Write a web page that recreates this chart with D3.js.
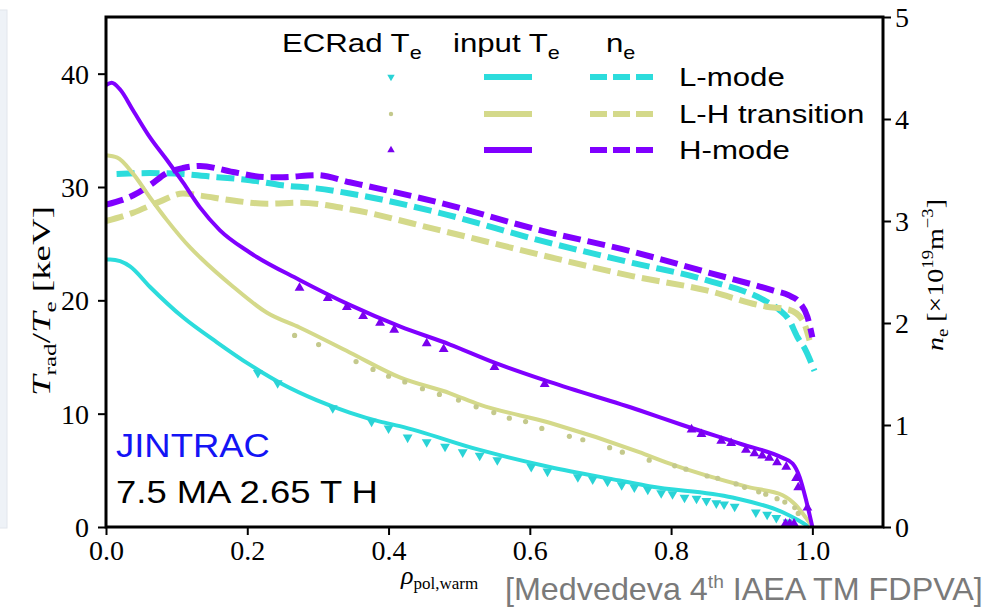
<!DOCTYPE html>
<html><head><meta charset="utf-8">
<script src="https://cdn.jsdelivr.net/npm/d3@7"></script>
<style>body{margin:0;background:#fff;} svg{display:block}</style>
</head><body><svg id="c" width="986" height="611"></svg>
<script>
// ---------- data ----------
const rhoTicks = [0, 0.2, 0.4, 0.6, 0.8, 1.0];
const teTicks = [0, 10, 20, 30, 40];
const neTicks = [0, 1, 2, 3, 4, 5];
const modes = ["L-mode", "L-H transition", "H-mode"];
const colors = ["#2cdcdc", "#d4d98a", "#8000ff"];

// input Te [keV]
const teL_rho = [0, .006, .034, .062, .109, .157, .204, .25, .298, .345, .388, .416, .529, .628, .727, .769, .887, .958, .98, .996];
const teL     = [23.6, 23.6, 23.0, 21.2, 18.5, 16.3, 14.3, 12.6, 11.2, 10.1, 9.3, 8.9, 6.8, 5.3, 4.1, 3.6, 2.6, 1.3, 0.6, 0];
const teLH_rho = [0, .016, .038, .062, .086, .12, .133, .18, .228, .274, .345, .416, .487, .529, .628, .755, .793, .911, .958, .977, .991, 1.0];
const teLH     = [32.8, 32.6, 31.2, 29.1, 27.1, 24.6, 23.8, 21.2, 18.9, 17.6, 15.4, 13.2, 11.8, 10.8, 9.2, 6.6, 5.7, 3.5, 2.8, 1.9, 0.8, 0];
const teH_rho = [0, .008, .02, .038, .062, .086, .109, .133, .161, .204, .274, .345, .416, .487, .55, .628, .755, .816, .9, .958, .972, .982, .991, 1.0];
const teH     = [39.0, 39.2, 38.6, 36.8, 34.4, 32.4, 30.4, 28.2, 26.2, 24.2, 21.8, 19.6, 17.7, 16.1, 14.5, 12.8, 10.3, 9.0, 7.3, 6.1, 5.6, 4.4, 2.4, 0];

// ne [1e19 m^-3]
const neL_rho = [.015, .062, .109, .157, .204, .25, .298, .345, .472, .614, .745, .85, .935, .953, .967, .979, .99, 1.003];
const neL     = [3.46, 3.47, 3.46, 3.43, 3.40, 3.35, 3.32, 3.27, 3.08, 2.81, 2.59, 2.42, 2.21, 2.13, 2.03, 1.86, 1.74, 1.53];
const neLH_rho = [0, .038, .076, .109, .133, .18, .228, .274, .341, .472, .614, .745, .85, .935, .967, .986, .996];
const neLH     = [3.0, 3.08, 3.19, 3.27, 3.25, 3.20, 3.17, 3.18, 3.12, 2.91, 2.67, 2.46, 2.32, 2.16, 2.13, 2.03, 1.83];
const neH_rho = [0, .038, .062, .086, .109, .133, .18, .228, .25, .298, .345, .472, .614, .745, .85, .944, .967, .982, .993, 1.0];
const neH     = [3.16, 3.25, 3.35, 3.47, 3.52, 3.54, 3.48, 3.43, 3.43, 3.45, 3.38, 3.18, 2.91, 2.70, 2.50, 2.32, 2.27, 2.20, 2.06, 1.86];

// ECRad Te markers
const ecL_rho = [.215, .243, .321, .376, .400, .427, .454, .48, .505, .529, .554, .602, .625, .668, .689, .71, .73, .748, .767, .786, .802, .819, .836, .85, .864, .875, .89, .92, .936, .949, .965];
const ecL     = [13.6, 12.7, 10.5, 9.3, 8.7, 7.9, 7.5, 7.1, 6.6, 6.3, 5.9, 5.3, 4.9, 4.4, 4.2, 4.0, 3.7, 3.5, 3.3, 3.0, 2.9, 2.6, 2.5, 2.3, 2.1, 2.0, 1.8, 1.3, 1.1, 0.8, 0.4];
const ecLH_rho = [.267, .301, .354, .378, .4, .423, .448, .472, .499, .524, .549, .571, .594, .617, .656, .675, .713, .731, .769, .805, .821, .851, .866, .892, .904, .924, .934, .95, .961, .975, .98];
const ecLH     = [16.9, 16.1, 14.6, 13.9, 13.3, 12.8, 12.2, 11.7, 11.2, 10.6, 10.1, 9.6, 9.3, 8.7, 8.0, 7.7, 7.0, 6.6, 5.9, 5.4, 5.1, 4.5, 4.3, 3.8, 3.5, 3.1, 2.9, 2.5, 2.2, 1.7, 1.2];
const ecH_rho = [.274, .314, .341, .364, .388, .408, .454, .478, .55, .621, .829, .843, .871, .885, .906, .918, .929, .939, .95, .963, .977, .98, .993, .962, .968, .974];
const ecH     = [21.1, 20.2, 19.4, 18.6, 18.0, 17.4, 16.2, 15.7, 14.1, 12.6, 8.6, 8.2, 7.6, 7.4, 6.8, 6.5, 6.3, 6.1, 5.7, 5.3, 4.3, 3.5, 1.7, 0.3, 0.3, 0.3];

// ---------- setup ----------
const svg = d3.select("#c");
const L = 106, R = 883, T = 17, B = 527;
const x = d3.scaleLinear([0, 1.1], [L, R]);
const yT = d3.scaleLinear([0, 45], [B, T]);
const yN = d3.scaleLinear([0, 5], [B, T]);
const serif = "'Liberation Serif', 'Times New Roman', serif";
const sans = "'Liberation Sans', Arial, Helvetica, sans-serif";

// faint screenshot panel at far left
svg.append("rect").attr("x", -1).attr("y", 10).attr("width", 8).attr("height", 518)
  .attr("fill", "#eef2f7").attr("stroke", "#e2e6ec").attr("stroke-width", 1);

const zip = (a, b) => a.map((v, i) => [v, b[i]]);
const teLines = [zip(teL_rho, teL), zip(teLH_rho, teLH), zip(teH_rho, teH)];
const neLines = [zip(neL_rho, neL), zip(neLH_rho, neLH), zip(neH_rho, neH)];
const ecPts = [zip(ecL_rho, ecL), zip(ecLH_rho, ecLH), zip(ecH_rho, ecH)];

const lineT = d3.line().x(d => x(d[0])).y(d => yT(d[1])).curve(d3.curveMonotoneX);
const lineN = d3.line().x(d => x(d[0])).y(d => yN(d[1])).curve(d3.curveMonotoneX);

const g = svg.append("g");
neLines.forEach((d, i) => {
  g.append("path").attr("d", lineN(d)).attr("fill", "none").attr("stroke", colors[i])
    .attr("stroke-width", 6).attr("stroke-dasharray", "18,7");
});
teLines.forEach((d, i) => {
  g.append("path").attr("d", lineT(d)).attr("fill", "none").attr("stroke", colors[i])
    .attr("stroke-width", 4).attr("stroke-linejoin", "round");
});
const triUp = d3.symbol(d3.symbolTriangle, 42)();
const triUpSmall = d3.symbol(d3.symbolTriangle, 24)();
ecPts.forEach((pts, i) => {
  pts.forEach(p => {
    if (i === 1) {
      g.append("circle").attr("cx", x(p[0])).attr("cy", yT(p[1])).attr("r", 2.6)
        .attr("fill", "#c4c98c");
    } else {
      g.append("path").attr("d", triUp)
        .attr("transform", `translate(${x(p[0])},${yT(p[1])})` + (i === 0 ? " rotate(180)" : ""))
        .attr("fill", i === 0 ? "#2ad3d6" : "#7a00ee");
    }
  });
});

// ---------- axes ----------
const tickStyle = s => {
  s.attr("font-family", null).attr("font-size", null);
  s.select(".domain").remove();
  s.selectAll(".tick line").attr("stroke", "#000").attr("stroke-width", 2);
  s.selectAll(".tick text").style("font-family", serif).style("font-size", "28px").attr("fill", "#000");
};
svg.append("g").attr("transform", `translate(0,${B})`)
  .call(d3.axisBottom(x).tickValues(rhoTicks).tickFormat(d3.format(".1f")).tickSize(8).tickPadding(4))
  .call(tickStyle)
  .call(s => s.selectAll(".tick text").attr("dy", null).attr("y", 33));
svg.append("g").attr("transform", `translate(${L},0)`)
  .call(d3.axisLeft(yT).tickValues(teTicks).tickFormat(d3.format("d")).tickSize(8).tickPadding(9))
  .call(tickStyle)
  .call(s => s.selectAll(".tick text").attr("dy", "0.34em"));
svg.append("g").attr("transform", `translate(${R},0)`)
  .call(d3.axisRight(yN).tickValues(neTicks).tickFormat(d3.format("d")).tickSize(8).tickPadding(4))
  .call(tickStyle)
  .call(s => s.selectAll(".tick text").attr("dy", "0.34em"));
// frame
svg.append("rect").attr("x", L).attr("y", T).attr("width", R - L).attr("height", B - T)
  .attr("fill", "none").attr("stroke", "#000").attr("stroke-width", 3);

// ---------- helpers ----------
function stretch(t, x0, sx) {
  t.attr("transform", `translate(${x0},0) scale(${sx},1) translate(${-x0},0)`);
}
function fit(t, x0, target) {
  const w = t.node().getBBox().width;
  stretch(t, x0, target / w);
}

// y labels (rotated, fitted along the text direction)
const yl = svg.append("text").attr("text-anchor", "middle")
  .style("font-family", serif).style("font-size", "25px").attr("fill", "#000");
yl.append("tspan").attr("font-style", "italic").text("T");
yl.append("tspan").style("font-size", "17px").attr("dy", 6).text("rad");
yl.append("tspan").attr("dy", -6).text("/");
yl.append("tspan").attr("font-style", "italic").text("T");
yl.append("tspan").style("font-size", "17px").attr("dy", 6).text("e");
yl.append("tspan").attr("dy", -6).text(" [keV]");
{
  const w = yl.node().getBBox().width;
  yl.attr("transform", `translate(50,301) rotate(-90) scale(${190 / w},1)`);
}

const yr = svg.append("text").attr("text-anchor", "middle")
  .style("font-family", serif).style("font-size", "24px").attr("fill", "#000");
yr.append("tspan").attr("font-style", "italic").text("n");
yr.append("tspan").style("font-size", "16px").attr("dy", 5).text("e");
yr.append("tspan").attr("dy", -5).text(" [\u00d710");
yr.append("tspan").style("font-size", "16px").attr("dy", -10).text("19");
yr.append("tspan").attr("dy", 10).text("m");
yr.append("tspan").style("font-size", "16px").attr("dy", -10).text("\u22123");
yr.append("tspan").attr("dy", 10).text("]");
{
  const w = yr.node().getBBox().width;
  yr.attr("transform", `translate(943,275) rotate(-90) scale(${152 / w},1)`);
}

// x label
const xl = svg.append("text").attr("x", 401).attr("y", 584)
  .style("font-family", serif).style("font-size", "26px").attr("fill", "#000");
xl.append("tspan").attr("font-style", "italic").text("\u03c1");
xl.append("tspan").style("font-size", "17px").attr("dy", 5).text("pol,warm");

// ---------- legend ----------
const SX = 1.2;
function header(xp, main, sub) {
  const t = svg.append("text").attr("x", xp).attr("y", 52).style("font-family", sans)
    .style("font-size", "26px").attr("fill", "#000");
  t.append("tspan").text(main);
  t.append("tspan").style("font-size", "18px").attr("dy", 7).text(sub);
  stretch(t, xp, SX);
}
header(282, "ECRad T", "e");
header(453, "input T", "e");
header(606, "n", "e");

const rowsY = [77, 114, 150];
modes.forEach((m, i) => {
  const yy = rowsY[i];
  if (i === 1) {
    svg.append("circle").attr("cx", 391).attr("cy", yy).attr("r", 2.2).attr("fill", "#c4c98c");
  } else {
    svg.append("path").attr("d", triUpSmall)
      .attr("transform", `translate(391,${yy})` + (i === 0 ? " rotate(180)" : ""))
      .attr("fill", i === 0 ? "#2ad3d6" : "#7a00ee");
  }
  svg.append("line").attr("x1", 484).attr("x2", 532).attr("y1", yy).attr("y2", yy)
    .attr("stroke", colors[i]).attr("stroke-width", 6);
  svg.append("line").attr("x1", 590).attr("x2", 653).attr("y1", yy).attr("y2", yy)
    .attr("stroke", colors[i]).attr("stroke-width", 6).attr("stroke-dasharray", "17,6");
  const t = svg.append("text").attr("x", 679).attr("y", yy + 9).style("font-family", sans)
    .style("font-size", "26px").attr("fill", "#000").text(m);
  stretch(t, 679, SX);
});

// ---------- annotations ----------
const j = svg.append("text").attr("x", 116).attr("y", 457).style("font-family", sans)
  .style("font-size", "33px").attr("fill", "#1414f5").text("JINTRAC");
fit(j, 116, 154);
const k = svg.append("text").attr("x", 116).attr("y", 503).style("font-family", sans)
  .style("font-size", "32px").attr("fill", "#000").text("7.5 MA 2.65 T H");
fit(k, 116, 262);

const cit = svg.append("text").attr("x", 505).attr("y", 600).style("font-family", sans)
  .style("font-size", "32px").attr("fill", "#7a7a7a");
cit.append("tspan").text("[Medvedeva 4");
cit.append("tspan").style("font-size", "19px").attr("dy", -12).text("th");
cit.append("tspan").attr("dy", 12).text(" IAEA TM FDPVA]");
fit(cit, 505, 478);
</script></body></html>
